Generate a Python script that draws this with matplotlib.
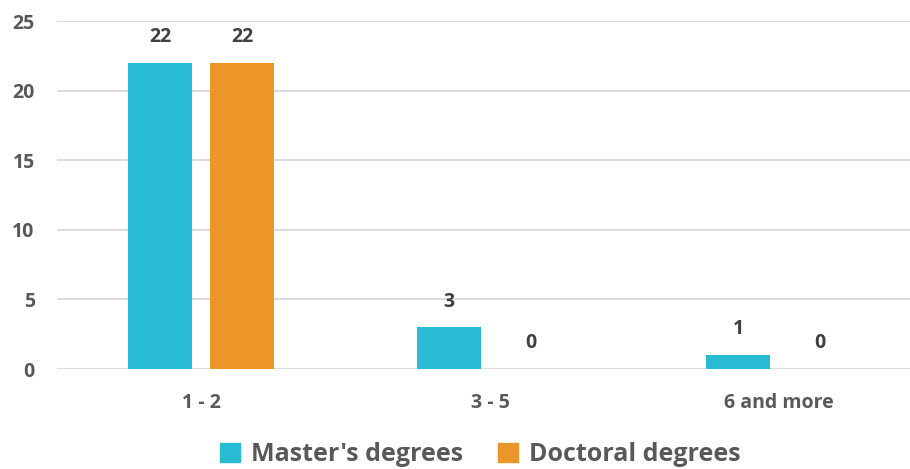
import matplotlib
matplotlib.use("Agg")
import matplotlib.pyplot as plt
import numpy as np
from matplotlib.patches import Patch

categories = ["1 - 2", "3 - 5", "6 and more"]
masters = [22, 3, 1]
doctoral = [22, 0, 0]
series_names = ["Master's degrees", "Doctoral degrees"]
yticks = [0, 5, 10, 15, 20, 25]

plt.rcParams['font.family'] = ['Open Sans', 'DejaVu Sans']

c_m = "#27BCD3"
c_d = "#EC962A"
tick_col = "#595959"
lab_col = "#404040"

fig = plt.figure(figsize=(9.1, 4.69), dpi=100)
ax = fig.add_axes([0.0626, 0.2132, 0.9374, 0.742])

x = np.arange(len(categories))
w = 0.222
off = 0.142
b1 = ax.bar(x - off, masters, w, color=c_m, zorder=3)
b2 = ax.bar(x + off, doctoral, w, color=c_d, zorder=3)

for bars, vals in ((b1, masters), (b2, doctoral)):
    for b, v in zip(bars, vals):
        ax.annotate(str(v), (b.get_x() + b.get_width() / 2, v),
                    xytext=(0, 18.5), textcoords="offset points",
                    ha="center", va="center", fontsize=14, fontweight="bold",
                    color=lab_col)

ax.set_xlim(-0.5, 2.453)
ax.set_ylim(0, 25)
ax.set_yticks(yticks)
ax.set_yticklabels([str(t) for t in yticks])
ax.set_xticks(x)
ax.set_xticklabels(categories)
ax.tick_params(axis="both", length=0, labelsize=14, labelcolor=tick_col)
ax.tick_params(axis="y", pad=16)
ax.tick_params(axis="x", pad=17)
for lab in ax.get_xticklabels() + ax.get_yticklabels():
    lab.set_fontweight("bold")
ax.grid(axis="y", color="#D9D9D9", linewidth=1.3, zorder=0)
for s in ax.spines.values():
    s.set_visible(False)

handles = [Patch(color=c_m), Patch(color=c_d)]
fig.legend(handles, series_names, loc="center", bbox_to_anchor=(0.528, 0.03),
           ncol=2, frameon=False, prop={"size": 18, "weight": "bold"},
           labelcolor=tick_col, handlelength=0.8, handleheight=0.8,
           handletextpad=0.45, columnspacing=1.4)

fig.savefig("out.png", dpi=100)
